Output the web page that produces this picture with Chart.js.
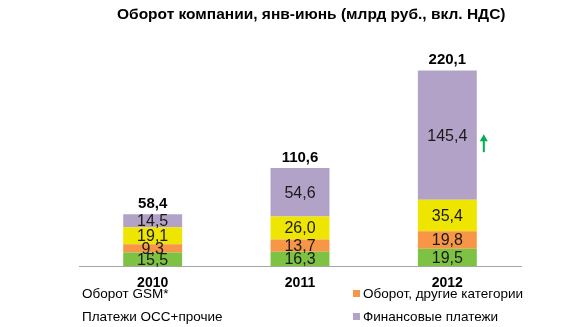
<!DOCTYPE html>
<html>
<head>
<meta charset="utf-8">
<style>
  html, body { margin: 0; padding: 0; background: #fff; }
  #wrap { width: 576px; height: 327px; }
</style>
</head>
<body>
<div id="wrap"><canvas id="turnover"></canvas></div>
<script src="https://cdn.jsdelivr.net/npm/chart.js"></script>
<script>
const years = ['2010', '2011', '2012'];
const gsm = [15.5, 16.3, 19.5];
const otherCats = [9.3, 13.7, 19.8];
const occ = [19.1, 26.0, 35.4];
const finance = [14.5, 54.6, 145.4];
const seriesNames = ['Оборот GSM*', 'Оборот, другие категории', 'Платежи ОСС+прочие', 'Финансовые платежи'];
const title = 'Оборот компании, янв-июнь (млрд руб., вкл. НДС)';

(() => {
  const FONT = '"Liberation Sans", Arial, sans-serif';
  const colors = ['#7dc242', '#f79646', '#eee600', '#b3a2c7'];
  const fmt = v => v.toFixed(1).replace('.', ',');

  // value labels inside segments, totals on top, the growth arrow
  const labelsPlugin = {
    id: 'labels',
    afterDatasetsDraw(chart) {
      const ctx = chart.ctx;
      ctx.save();
      ctx.textAlign = 'center';
      ctx.textBaseline = 'middle';
      ctx.fillStyle = '#1a1a1a';
      ctx.font = '16px ' + FONT;
      chart.data.datasets.forEach((ds, di) => {
        chart.getDatasetMeta(di).data.forEach((bar, i) => {
          const y = (bar.y + bar.base) / 2;
          ctx.fillText(fmt(ds.data[i]), bar.x, y + 1);
        });
      });
      const top = chart.getDatasetMeta(chart.data.datasets.length - 1).data;
      ctx.font = 'bold 15px ' + FONT;
      ctx.fillStyle = '#000';
      ctx.textBaseline = 'bottom';
      years.forEach((y, i) => {
        const total = gsm[i] + otherCats[i] + occ[i] + finance[i];
        ctx.fillText(fmt(total), top[i].x, top[i].y - 3);
      });
      // green arrow beside the 2012 bar
      const b = top[2];
      const ax = b.x + b.width / 2 + 7;
      const ay = (b.y + b.base) / 2 + 8;
      ctx.strokeStyle = '#00b050';
      ctx.fillStyle = '#00b050';
      ctx.lineWidth = 2;
      ctx.beginPath();
      ctx.moveTo(ax, ay + 9);
      ctx.lineTo(ax, ay - 3);
      ctx.stroke();
      ctx.beginPath();
      ctx.moveTo(ax - 4, ay - 2);
      ctx.lineTo(ax + 4, ay - 2);
      ctx.lineTo(ax, ay - 9);
      ctx.closePath();
      ctx.fill();
      ctx.restore();
    }
  };

  // heading and two-column legend
  const framePlugin = {
    id: 'frame',
    afterDraw(chart) {
      const ctx = chart.ctx;
      ctx.save();
      ctx.fillStyle = '#000';
      ctx.textBaseline = 'middle';
      ctx.textAlign = 'left';
      ctx.font = 'bold 15.5px ' + FONT;
      ctx.fillText(title, 117, 15);
      ctx.font = '13.5px ' + FONT;
      const spots = [[82, 294, false], [363, 294, true], [82, 317, false], [363, 317, true]];
      seriesNames.forEach((name, i) => {
        const [x, y, mark] = spots[i];
        if (mark) {
          ctx.fillStyle = colors[i];
          ctx.fillRect(x - 10, y - 4, 7, 7);
        }
        ctx.fillStyle = '#000';
        ctx.fillText(name, x, y);
      });
      ctx.restore();
    }
  };

  const series = [gsm, otherCats, occ, finance];
  new Chart(document.getElementById('turnover'), {
    type: 'bar',
    data: {
      labels: years,
      datasets: series.map((d, i) => ({
        label: seriesNames[i],
        data: d,
        backgroundColor: colors[i],
        borderWidth: 0,
        barPercentage: 0.8,
        categoryPercentage: 0.5
      }))
    },
    options: {
      responsive: true,
      maintainAspectRatio: false,
      animation: false,
      layout: { padding: { left: 79, right: 55, top: 44, bottom: 26 } },
      plugins: {
        legend: { display: false },
        title: { display: false },
        tooltip: { enabled: false }
      },
      scales: {
        x: {
          stacked: true,
          grid: { display: false, drawTicks: false },
          border: { display: true, color: '#a6a6a6', width: 1 },
          ticks: { color: '#000', font: { family: FONT, size: 14, weight: 'bold' }, padding: 9 }
        },
        y: {
          stacked: true,
          display: false,
          min: 0,
          max: 250
        }
      }
    },
    plugins: [labelsPlugin, framePlugin]
  });
})();
</script>
</body>
</html>
